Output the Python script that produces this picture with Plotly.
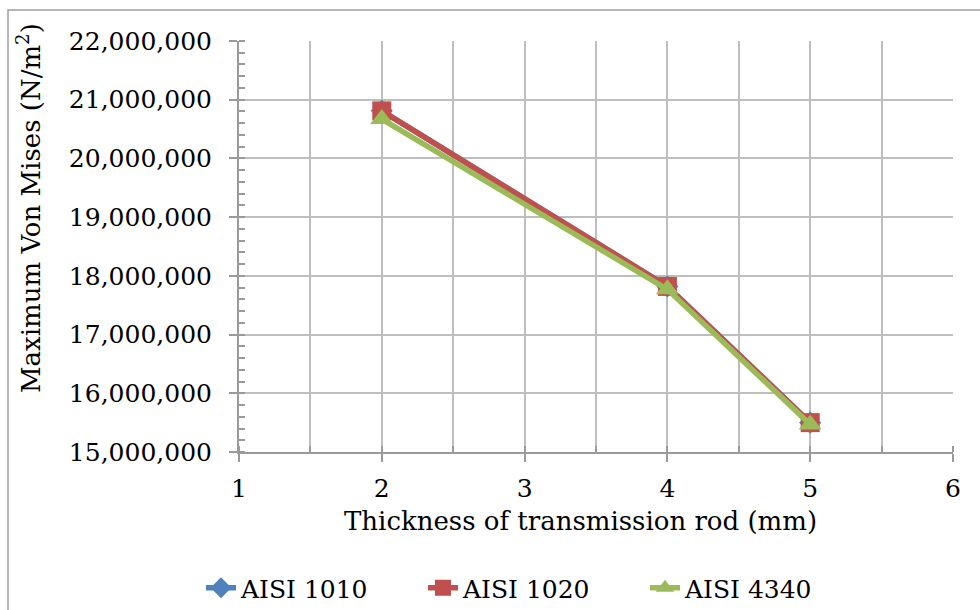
import plotly.graph_objects as go

thickness = [2, 4, 5]
aisi_1010 = [20810000, 17820000, 15500000]
aisi_1020 = [20810000, 17820000, 15500000]
aisi_4340 = [20670000, 17770000, 15470000]

x_ticks = [1, 2, 3, 4, 5, 6]
y_ticks = [15000000, 16000000, 17000000, 18000000, 19000000, 20000000, 21000000, 22000000]

FONT = "DejaVu Serif"

fig = go.Figure()
fig.add_trace(go.Scatter(x=thickness, y=aisi_1010, name="AISI 1010", mode="lines+markers",
                         line=dict(color="#4F81BD", width=5.5),
                         marker=dict(symbol="diamond", size=17, color="#4F81BD")))
fig.add_trace(go.Scatter(x=thickness, y=aisi_1020, name="AISI 1020", mode="lines+markers",
                         line=dict(color="#C0504D", width=5.5),
                         marker=dict(symbol="square", size=19, color="#C0504D")))
fig.add_trace(go.Scatter(x=thickness, y=aisi_4340, name="AISI 4340", mode="lines+markers",
                         line=dict(color="#9BBB59", width=5.5),
                         marker=dict(symbol="triangle-up", size=20, color="#9BBB59")))

grid = "#BEBEBE"
axis = "#9A9A9A"

fig.update_layout(
    width=980, height=610,
    margin=dict(l=239, r=27, t=41, b=158, autoexpand=False),
    paper_bgcolor="white", plot_bgcolor="white",
    font=dict(family=FONT, size=25, color="black"),
    showlegend=True,
    legend=dict(orientation="h", x=(201 - 239) / 714, xanchor="left",
                y=(452 - 588) / 411, yanchor="middle",
                font=dict(family=FONT, size=25),
                entrywidth=177, entrywidthmode="pixels", tracegroupgap=0),
    xaxis=dict(range=[1, 6], tickvals=x_ticks, ticktext=[str(v) for v in x_ticks],
               showgrid=True, gridcolor=grid, gridwidth=1.5,
               showline=True, linecolor=axis, linewidth=2,
               ticks="outside", ticklen=8, tickcolor=axis, tickwidth=1.5,
               ticklabelstandoff=5,
               minor=dict(dtick=0.5, showgrid=True, gridcolor=grid, gridwidth=1.5,
                          ticks="inside", ticklen=6, tickcolor=axis),
               automargin=False, zeroline=False, mirror=False),
    yaxis=dict(range=[15000000, 22000000], tickvals=y_ticks,
               ticktext=[f"{v:,}" for v in y_ticks],
               showgrid=True, gridcolor=grid, gridwidth=1.5,
               showline=True, linecolor=axis, linewidth=2,
               ticks="outside", ticklen=8, tickcolor=axis, tickwidth=1.5,
               ticklabelstandoff=12,
               minor=dict(dtick=200000, showgrid=False, ticks="inside", ticklen=6, tickcolor=axis),
               automargin=False, zeroline=False),
)

fig.add_annotation(text="Thickness of transmission rod (mm)", xref="paper", yref="paper",
                   x=(580 - 239) / 714, y=(452 - 521) / 411, xanchor="center", yanchor="middle",
                   showarrow=False, font=dict(family=FONT, size=26))
fig.add_annotation(text="Maximum Von Mises (N/m<sup>2</sup>)", xref="paper", yref="paper",
                   x=(29 - 239) / 714, y=(452 - 208) / 411, xanchor="center", yanchor="middle",
                   textangle=-90, showarrow=False, font=dict(family=FONT, size=26))

fig.add_shape(type="rect", xref="paper", yref="paper",
              x0=(8 - 239) / 714, x1=(995 - 239) / 714,
              y0=(452 - 625) / 411, y1=(452 - 10) / 411,
              line=dict(color="#A0A0A0", width=1.5), fillcolor="rgba(0,0,0,0)", layer="below")

fig.write_html("out.html")
